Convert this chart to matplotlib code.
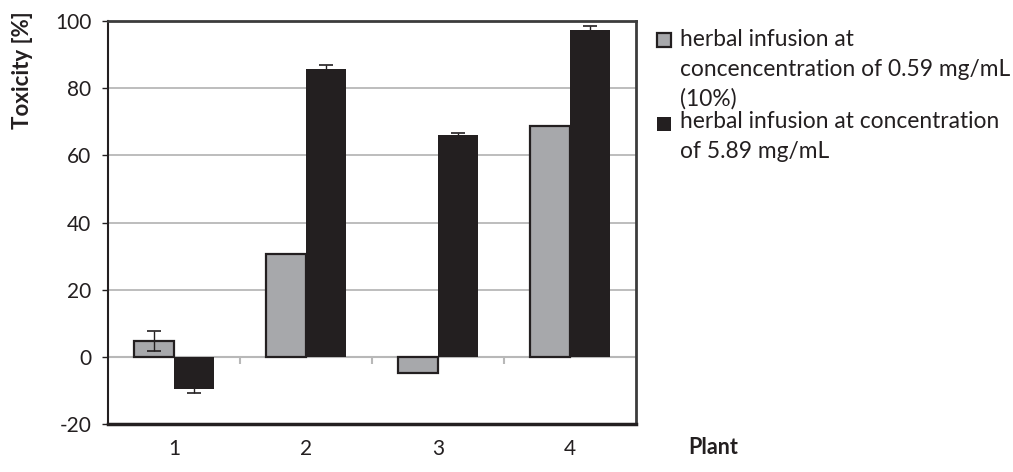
import numpy as np
import matplotlib
matplotlib.use("Agg")
import matplotlib.pyplot as plt
from matplotlib.patches import Rectangle

plt.rcParams['font.family'] = ['Lato', 'DejaVu Sans']
plt.rcParams['axes.unicode_minus'] = False

plants = ['1', '2', '3', '4']
low_dose = [4.7, 30.7, -4.8, 68.8]        # 0.59 mg/mL
low_dose_err = [3.0, 0, 0, 0]
high_dose = [-9.6, 85.6, 66.0, 97.3]      # 5.89 mg/mL
high_dose_err = [1.2, 1.3, 0.6, 1.3]

label_low = "herbal infusion at\nconcencentration of 0.59 mg/mL\n(10%)"
label_high = "herbal infusion at concentration\nof 5.89 mg/mL"

GRAY = '#a7a8ab'
DARK = '#231f20'
GRID = '#b8b8b8'

fig = plt.figure(figsize=(10.13, 4.72), dpi=100)
ax = fig.add_axes([0.1066, 0.1017, 0.5212, 0.8538])

x = np.arange(len(plants))
w = 0.3
ax.bar(x - w / 2, low_dose, w, color=GRAY, edgecolor=DARK, linewidth=1.6, zorder=3)
ax.bar(x + w / 2, high_dose, w, color=DARK, edgecolor=DARK, linewidth=0, zorder=3)

# error bars only where a deviation was reported
for xs, vals, errs in [(x - w / 2, low_dose, low_dose_err), (x + w / 2, high_dose, high_dose_err)]:
    m = np.array(errs) > 0
    ax.errorbar(np.asarray(xs)[m], np.asarray(vals)[m], yerr=np.asarray(errs)[m],
                fmt='none', ecolor=DARK, elinewidth=1.0, capsize=5, capthick=1.2, zorder=4)

ax.set_xlim(-0.5, len(plants) - 0.5)
ax.set_ylim(-20, 100)
ax.set_yticks(np.arange(-20, 101, 20))

for y in range(20, 100, 20):
    ax.axhline(y, color=GRID, lw=1.3, zorder=1)
ax.axhline(0, color=GRID, lw=1.5, zorder=2)
# category separators hanging below the zero line
ax.plot(x[:-1] + 0.5, np.zeros(len(x) - 1), linestyle='none', marker=3,
        markersize=5, color=GRID, mew=1.5, zorder=2)

ax.set_xticks(x)
ax.set_xticklabels(plants)
ax.tick_params(axis='x', length=0, pad=11, labelsize=15, labelcolor=DARK)
ax.tick_params(axis='y', direction='out', length=4, width=1, color=DARK,
               pad=8, labelsize=15, labelcolor=DARK)

ax.spines['left'].set_color(DARK)
ax.spines['left'].set_linewidth(1.5)
ax.spines['bottom'].set_color(DARK)
ax.spines['bottom'].set_linewidth(2.5)
for s in ['top', 'right']:
    ax.spines[s].set_color('#3c3c3c')
    ax.spines[s].set_linewidth(2.0)

fig.text(0.022, 0.852, 'Toxicity [%]', rotation=90, ha='center', va='center',
         fontsize=16, fontweight='bold', color=DARK)
fig.text(0.679, 0.052, 'Plant', ha='left', va='center',
         fontsize=15.5, fontweight='bold', color=DARK)

# legend drawn by hand so the swatch sits on the first text line
W, H = 1013, 472
sw = 14
fig.add_artist(Rectangle((657 / W, 1 - 47 / H), sw / W, sw / H, transform=fig.transFigure,
                         facecolor=GRAY, edgecolor=DARK, linewidth=1.6))
fig.add_artist(Rectangle((657 / W, 1 - 131 / H), sw / W, sw / H, transform=fig.transFigure,
                         facecolor=DARK, edgecolor=DARK, linewidth=0))
fig.text(680 / W, 1 - 29 / H, label_low, ha='left', va='top', fontsize=16.4,
         linespacing=1.5, color=DARK)
fig.text(680 / W, 1 - 111 / H, label_high, ha='left', va='top', fontsize=16.4,
         linespacing=1.5, color=DARK)

fig.savefig('out.png', dpi=100)
